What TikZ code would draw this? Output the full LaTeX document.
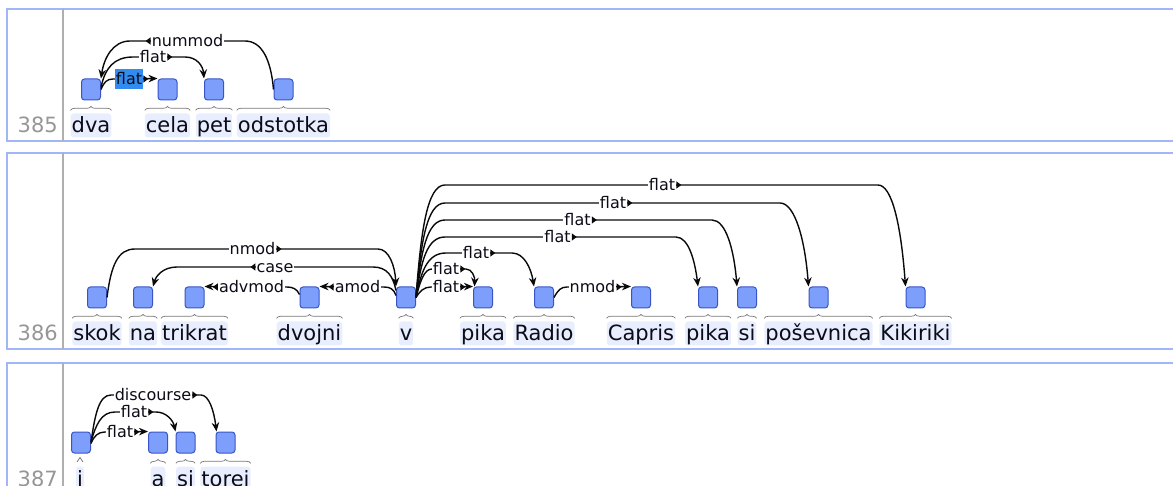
\documentclass[tikz,border=0pt]{standalone}
\usepackage{fontspec}
\setmainfont{DejaVu Sans}
\usetikzlibrary{arrows.meta,decorations.pathreplacing}
\definecolor{rowb}{RGB}{160,182,245}
\definecolor{sepg}{RGB}{175,175,175}
\definecolor{rnumc}{RGB}{150,150,150}
\definecolor{wbg}{RGB}{232,238,253}
\definecolor{tokf}{RGB}{125,158,250}
\definecolor{tokb}{RGB}{55,85,200}
\definecolor{hl}{RGB}{50,140,240}
\definecolor{txt}{RGB}{12,12,24}
\definecolor{brg}{RGB}{120,120,120}
\definecolor{linec}{RGB}{10,10,10}
\newcommand\tokw[4]{%
  \node[word] (w#1) at (#2,#3) {#4};
  \node[tok] (#1) at (#2,#3-43.5) {};
  \draw[brc] ([yshift=3pt]w#1.north west) -- ([yshift=3pt]w#1.north east);}
\newcommand\labr[5][]{%
  \node[lab,#1] (#2) at (#3,#4) {#5};
  \fill[linec] ([yshift=3.7pt]#2.east) -- ([yshift=-3.7pt]#2.east) -- ([xshift=5pt]#2.east) -- cycle;}
\newcommand\labl[5][]{%
  \node[lab,#1] (#2) at (#3,#4) {#5};
  \fill[linec] ([yshift=3.7pt]#2.west) -- ([yshift=-3.7pt]#2.west) -- ([xshift=-5pt]#2.west) -- cycle;}
\begin{document}
\begin{tikzpicture}[x=1pt,y=-1pt,
  dep/.style={line width=1.4pt, draw=linec, -{Stealth[length=9pt,width=7.5pt]}},
  word/.style={anchor=base, fill=wbg, rounded corners=3pt, inner xsep=1pt, inner ysep=2.5pt,
    text height=17pt, text depth=2pt, font=\fontsize{21}{24}\selectfont, text=txt},
  tok/.style={draw=tokb, fill=tokf, line width=1pt, rounded corners=3pt,
    minimum width=19pt, minimum height=21pt, inner sep=0pt},
  brc/.style={decorate, decoration={brace, amplitude=4pt}, draw=brg, line width=0.7pt},
  lab/.style={fill=white, inner xsep=1pt, inner ysep=1pt, text height=11.5pt, text depth=1pt,
    font=\fontsize{16}{18}\selectfont, text=txt},
  rnum/.style={anchor=base east, font=\fontsize{21}{24}\selectfont, text=rnumc, inner sep=0pt},
  rowline/.style={draw=rowb, line width=1.5pt},
  sepl/.style={draw=sepg, line width=2pt}]
\useasboundingbox (0,0) rectangle (1173,486);
% row frames
\draw[rowline] (1180,9) -- (7,9) -- (7,141) -- (1180,141);
\draw[rowline] (1180,153) -- (7,153) -- (7,349) -- (1180,349);
\draw[rowline] (1180,363) -- (7,363) -- (7,500);
\draw[sepl] (63,9) -- (63,141);
\draw[sepl] (63,153) -- (63,349);
\draw[sepl] (63,363) -- (63,500);
\node[rnum] (n385) at (58,133) {385};
\node[rnum] (n386) at (58,341) {386};
\node[rnum] (n387) at (58,486) {387};
% row 385
\tokw{dva}{91}{133}{dva}
\tokw{cela}{167.5}{133}{cela}
\tokw{pet}{214}{133}{pet}
\tokw{odst}{283.5}{133}{odstotka}
\draw[dep] (odst.west) .. controls (271,60) and (262,41) .. (245,41) -- (130,41) .. controls (113,41) and (104,58) .. (dva.north east);
\draw[dep] ([yshift=2pt]dva.east) .. controls (105,68) and (114,57) .. (133,57) -- (185,57) .. controls (197,57) and (203,66) .. (pet.north west);
\draw[dep] (dva.east) .. controls (104,82) and (107,79) .. (113,79) -- (cela.north west);
\labl{l1}{187.5}{41}{nummod}
\labr{l2}{153}{57}{flat}
\labr[fill=hl,inner ysep=4pt]{l3}{129}{79}{flat}
% row 386
\tokw{skok}{97}{341}{skok}
\tokw{na}{143}{341}{na}
\tokw{trik}{194.5}{341}{trikrat}
\tokw{dvoj}{309.5}{341}{dvojni}
\tokw{v}{406}{341}{v}
\tokw{pika}{483}{341}{pika}
\tokw{radio}{544}{341}{Radio}
\tokw{capris}{641}{341}{Capris}
\tokw{pika2}{708}{341}{pika}
\tokw{si2}{747}{341}{si}
\tokw{posev}{818.5}{341}{poševnica}
\tokw{kiki}{915.5}{341}{Kikiriki}
\draw[dep] (skok.east) .. controls (111,265) and (118,249) .. (135,249) -- (378,249) .. controls (389,249) and (395,266) .. (v.north west);
\draw[dep] ([yshift=-4pt]v.north west) .. controls (393,276) and (387,267) .. (373,267) -- (177,267) .. controls (163,267) and (156,276) .. (na.north east);
\draw[dep] ([yshift=3pt]dvoj.west) .. controls (297,289) and (293,287) .. (287,287) -- (trik.north east);
\draw[dep] ([yshift=2pt]v.west) .. controls (394,289) and (390,287) .. (384,287) -- (dvoj.north east);
\draw[dep] (v.east) .. controls (420,291) and (424,287) .. (431,287) -- (pika.north west);
\draw[dep] (v.east) .. controls (420,282) and (424,269) .. (432,269) -- (466,269) .. controls (472,269) and (475,277) .. ([xshift=1.5pt]pika.north west);
\draw[dep] (v.east) .. controls (421,272) and (427,253) .. (446,253) -- (512,253) .. controls (524,253) and (531,268) .. (radio.north west);
\draw[dep] (v.east) .. controls (421,261) and (427,237) .. (445,237) -- (676,237) .. controls (689,237) and (695,262) .. (pika2.north west);
\draw[dep] (v.east) .. controls (421,251) and (427,220) .. (445,220) -- (712,220) .. controls (726,220) and (734,250) .. (si2.north west);
\draw[dep] (v.east) .. controls (421,241) and (427,203) .. (445,203) -- (780,203) .. controls (795,203) and (805,240) .. (posev.north west);
\draw[dep] (v.east) .. controls (421,231) and (427,185) .. (445,185) -- (878,185) .. controls (892,185) and (901,225) .. (kiki.north west);
\draw[dep] (radio.east) .. controls (558,290) and (561,287) .. (567,287) -- (capris.north west);
\labr{l4}{252.5}{249}{nmod}
\labl{l5}{275}{267}{case}
\labl{l6}{251.5}{287}{advmod}
\labl{l7}{357.5}{287}{amod}
\labr{l8}{446}{287}{flat}
\labr{l9}{446}{269}{flat}
\labr{l10}{476}{253}{flat}
\labr{l11}{557.5}{237}{flat}
\labr{l12}{577.5}{220}{flat}
\labr{l13}{613}{203}{flat}
\labr{l14}{662}{185}{flat}
\labr{l15}{592.5}{287}{nmod}
% row 387
\node[word] (wi) at (80,486) {i};
\node[tok] (i) at (81,442.5) {};
\draw[brg, line width=0.7pt] (77,462) -- (80,457.5) -- (83,462);
\tokw{a}{158}{486}{a}
\tokw{si3}{185.5}{486}{si}
\tokw{torei}{225.5}{486}{torei}
\draw[dep] (i.east) .. controls (95,414) and (99,395) .. (111,395) -- (201,395) .. controls (209,395) and (214,411) .. ([xshift=1pt]torei.north west);
\draw[dep] ([yshift=1pt]i.east) .. controls (96,425) and (101,412) .. (115,412) -- (156,412) .. controls (166,412) and (173,420) .. (si3.north west);
\draw[dep] ([yshift=-1pt]i.east) .. controls (94,436) and (98,432) .. (105,432) -- (a.north west);
\labr{l16}{153}{395}{discourse}
\labr{l17}{134}{412}{flat}
\labr{l18}{120}{432}{flat}
\end{tikzpicture}
\end{document}
